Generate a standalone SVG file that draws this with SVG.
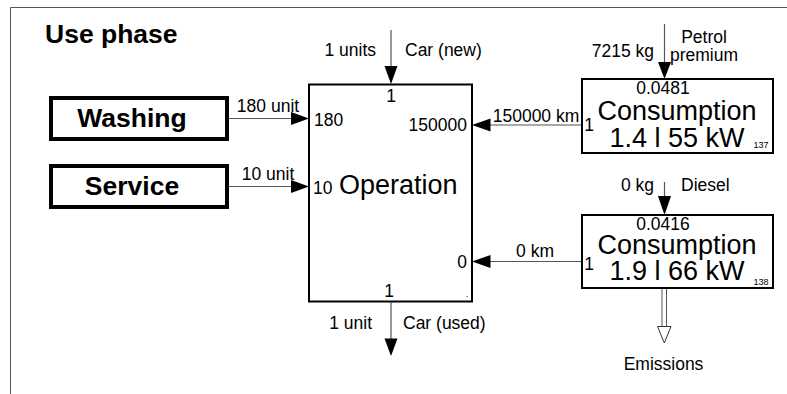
<svg xmlns="http://www.w3.org/2000/svg" width="787" height="394" viewBox="0 0 787 394">
<style>
text{font-family:"Liberation Sans",Arial,sans-serif;fill:#000}
.lbl{font-size:17.5px}
.big{font-size:27px}
.bold{font-weight:bold;font-size:26.5px}
.tiny{font-size:9px}
.frame{fill:none;stroke:#555;stroke-width:1}
.flow{stroke:#555;stroke-width:1.2;fill:none}
.box{fill:#fff;stroke:#000;stroke-width:2}
.thick{fill:#fff;stroke:#000;stroke-width:4}
.head{fill:#000}
</style>
<path class="frame" d="M10.5,394 V7.5 H787"/>
<text x="45" y="43" class="bold">Use phase</text>
<g id="connectors">
  <!-- Car (new) -->
  <line class="flow" x1="391" y1="30" x2="391" y2="70"/>
  <polygon class="head" points="384.5,66 397.5,66 391,84"/>
  <!-- Washing -->
  <line class="flow" x1="229" y1="118.5" x2="295" y2="118.5"/>
  <polygon class="head" points="291,112 291,125 309,118.5"/>
  <!-- Service -->
  <line class="flow" x1="229" y1="186.5" x2="295" y2="186.5"/>
  <polygon class="head" points="291,180 291,193 309,186.5"/>
  <!-- Car (used) -->
  <line class="flow" x1="391" y1="301" x2="391" y2="342"/>
  <polygon class="head" points="384.5,338.5 397.5,338.5 391,356"/>
  <!-- Petrol -->
  <line class="flow" x1="664.5" y1="24" x2="664.5" y2="65"/>
  <polygon class="head" points="658,62 671,62 664.5,79"/>
  <!-- 150000 km -->
  <line class="flow" x1="582" y1="125" x2="487" y2="125"/>
  <polygon class="head" points="490.5,118.5 490.5,131.5 472,125"/>
  <!-- Diesel -->
  <line class="flow" x1="664.5" y1="182" x2="664.5" y2="200"/>
  <polygon class="head" points="658,196 671,196 664.5,215"/>
  <!-- 0 km -->
  <line class="flow" x1="582" y1="261.5" x2="487" y2="261.5"/>
  <polygon class="head" points="490.5,255 490.5,268 472,261.5"/>
  <!-- Emissions -->
  <rect x="662" y="288" width="4.5" height="39" fill="#fff" stroke="#555" stroke-width="1"/>
  <polygon points="657.5,326.5 671,326.5 664.3,343" fill="#fff" stroke="#333" stroke-width="1"/>
</g>
<g id="washing">
  <rect class="thick" x="51" y="98" width="176" height="41"/>
  <text x="132" y="127" class="bold" text-anchor="middle">Washing</text>
</g>
<g id="service">
  <rect class="thick" x="51" y="166" width="176" height="41"/>
  <text x="132" y="195" class="bold" text-anchor="middle">Service</text>
</g>
<g id="operation">
  <rect class="box" x="309" y="84.5" width="163" height="217"/>
  <text x="313" y="193.5" class="lbl">10</text>
  <text x="339" y="193.5" class="big">Operation</text>
  <text x="314" y="126" class="lbl">180</text>
  <text x="391" y="102" class="lbl" text-anchor="middle">1</text>
  <text x="467" y="131" class="lbl" text-anchor="end">150000</text>
  <text x="467" y="268" class="lbl" text-anchor="end">0</text>
  <text x="389" y="297" class="lbl" text-anchor="middle">1</text>
  <text x="467" y="297" class="tiny" text-anchor="middle">.</text>
</g>
<g id="consumption1">
  <rect class="box" x="582" y="79" width="191" height="74"/>
  <text x="663" y="93.5" class="lbl" text-anchor="middle">0.0481</text>
  <text x="677" y="120" class="big" text-anchor="middle">Consumption</text>
  <text x="677" y="146.5" class="big" text-anchor="middle">1.4 l 55 kW</text>
  <text x="589" y="131" class="lbl" text-anchor="middle">1</text>
  <text x="761" y="148" class="tiny" text-anchor="middle">137</text>
</g>
<g id="consumption2">
  <rect class="box" x="582" y="215" width="191" height="73"/>
  <text x="663" y="230" class="lbl" text-anchor="middle">0.0416</text>
  <text x="677" y="253.5" class="big" text-anchor="middle">Consumption</text>
  <text x="677" y="280" class="big" text-anchor="middle">1.9 l 66 kW</text>
  <text x="589" y="270" class="lbl" text-anchor="middle">1</text>
  <text x="761" y="285" class="tiny" text-anchor="middle">138</text>
</g>
<g id="labels">
  <text x="376" y="56" class="lbl" text-anchor="end">1 units</text>
  <text x="405" y="56" class="lbl">Car (new)</text>
  <text x="268" y="111.5" class="lbl" text-anchor="middle">180 unit</text>
  <text x="268" y="180" class="lbl" text-anchor="middle">10 unit</text>
  <text x="372" y="329" class="lbl" text-anchor="end">1 unit</text>
  <text x="403" y="329" class="lbl">Car (used)</text>
  <text x="654" y="56.5" class="lbl" text-anchor="end">7215 kg</text>
  <text x="704" y="43" class="lbl" text-anchor="middle">Petrol</text>
  <text x="704" y="61" class="lbl" text-anchor="middle">premium</text>
  <text x="536" y="121.5" class="lbl" text-anchor="middle">150000 km</text>
  <text x="654" y="191" class="lbl" text-anchor="end">0 kg</text>
  <text x="681" y="191" class="lbl">Diesel</text>
  <text x="535" y="256.5" class="lbl" text-anchor="middle">0 km</text>
  <text x="663.5" y="370" class="lbl" text-anchor="middle">Emissions</text>
</g>
</svg>
